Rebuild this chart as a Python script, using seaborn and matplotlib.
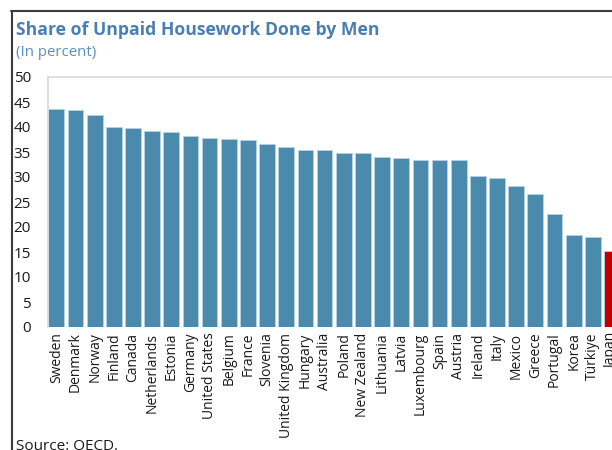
import numpy as np
import pandas as pd
import matplotlib.pyplot as plt
import seaborn as sns
from matplotlib.lines import Line2D

#%%
paises = ['Sweden', 'Denmark', 'Norway', 'Finland', 'Canada', 'Netherlands',
          'Estonia', 'Germany', 'United States', 'Belgium', 'France', 'Slovenia',
          'United Kingdom', 'Hungary', 'Australia', 'Poland', 'New Zealand',
          'Lithuania', 'Latvia', 'Luxembourg', 'Spain', 'Austria', 'Ireland',
          'Italy', 'Mexico', 'Greece', 'Portugal', 'Korea', 'Türkiye', 'Japan']
valores = [43.7, 43.4, 42.5, 40.1, 39.8, 39.3, 39.1, 38.3, 37.9, 37.7, 37.5,
           36.7, 36.0, 35.5, 35.5, 34.9, 34.8, 34.1, 33.9, 33.5, 33.5, 33.4,
           30.2, 29.9, 28.3, 26.7, 22.6, 18.4, 18.0, 15.3]
destacado = 'Japan'

df = pd.DataFrame({'pais': paises, 'valor': valores})

#%%
sns.set_style('white')
plt.rcParams['font.family'] = ['Open Sans', 'DejaVu Sans']

azul = '#4a8bad'
rojo = '#c00000'
paleta = {p: (rojo if p == destacado else azul) for p in paises}

fig = plt.figure(figsize=(6.12, 4.5), dpi=100)
ax = fig.add_axes([47.7 / 612, 123 / 450, 1 - 47.7 / 612, 250 / 450])

sns.barplot(data=df, x='pais', y='valor', hue='pais', palette=paleta,
            legend=False, width=0.82, saturation=1, ax=ax,
            edgecolor='#b5d3e3', linewidth=0.6)

ax.set_xlim(-0.45, 29.0)
ax.set_ylim(0, 50)
ax.set_yticks(np.arange(0, 51, 5))
ax.tick_params(axis='y', direction='in', length=5, color='#d0d0d0',
               pad=12, labelsize=11, labelcolor='#1a1a1a')
ax.tick_params(axis='x', length=0, pad=4, labelsize=10, labelcolor='#1a1a1a')
plt.setp(ax.get_xticklabels(), rotation=90, va='top', ha='center')
ax.set_xlabel('')
ax.set_ylabel('')

for s in ['top', 'left']:
    ax.spines[s].set_color('#dadada')
    ax.spines[s].set_linewidth(1.2)
ax.spines['right'].set_visible(False)
ax.spines['bottom'].set_visible(False)

fig.text(16 / 612, 1 - 30 / 450, 'Share of Unpaid Housework Done by Men',
         fontsize=12.7, fontweight='bold', color='#4a7fb2', va='center')
fig.text(16 / 612, 1 - 53 / 450, '(In percent)', fontsize=10.8,
         color='#5b8fc4', va='center')
fig.text(16 / 612, 1 - 446 / 450, 'Source: OECD.', fontsize=11,
         color='#1a1a1a', va='center')

# marco de la captura
fig.add_artist(Line2D([11 / 612, 1], [1 - 11 / 450, 1 - 11 / 450],
                      color='#3c3c3c', lw=1.5, transform=fig.transFigure))
fig.add_artist(Line2D([11.5 / 612, 11.5 / 612], [0, 1 - 11 / 450],
                      color='#3c3c3c', lw=1.5, transform=fig.transFigure))

plt.savefig('out.png', format='png', dpi=100)
